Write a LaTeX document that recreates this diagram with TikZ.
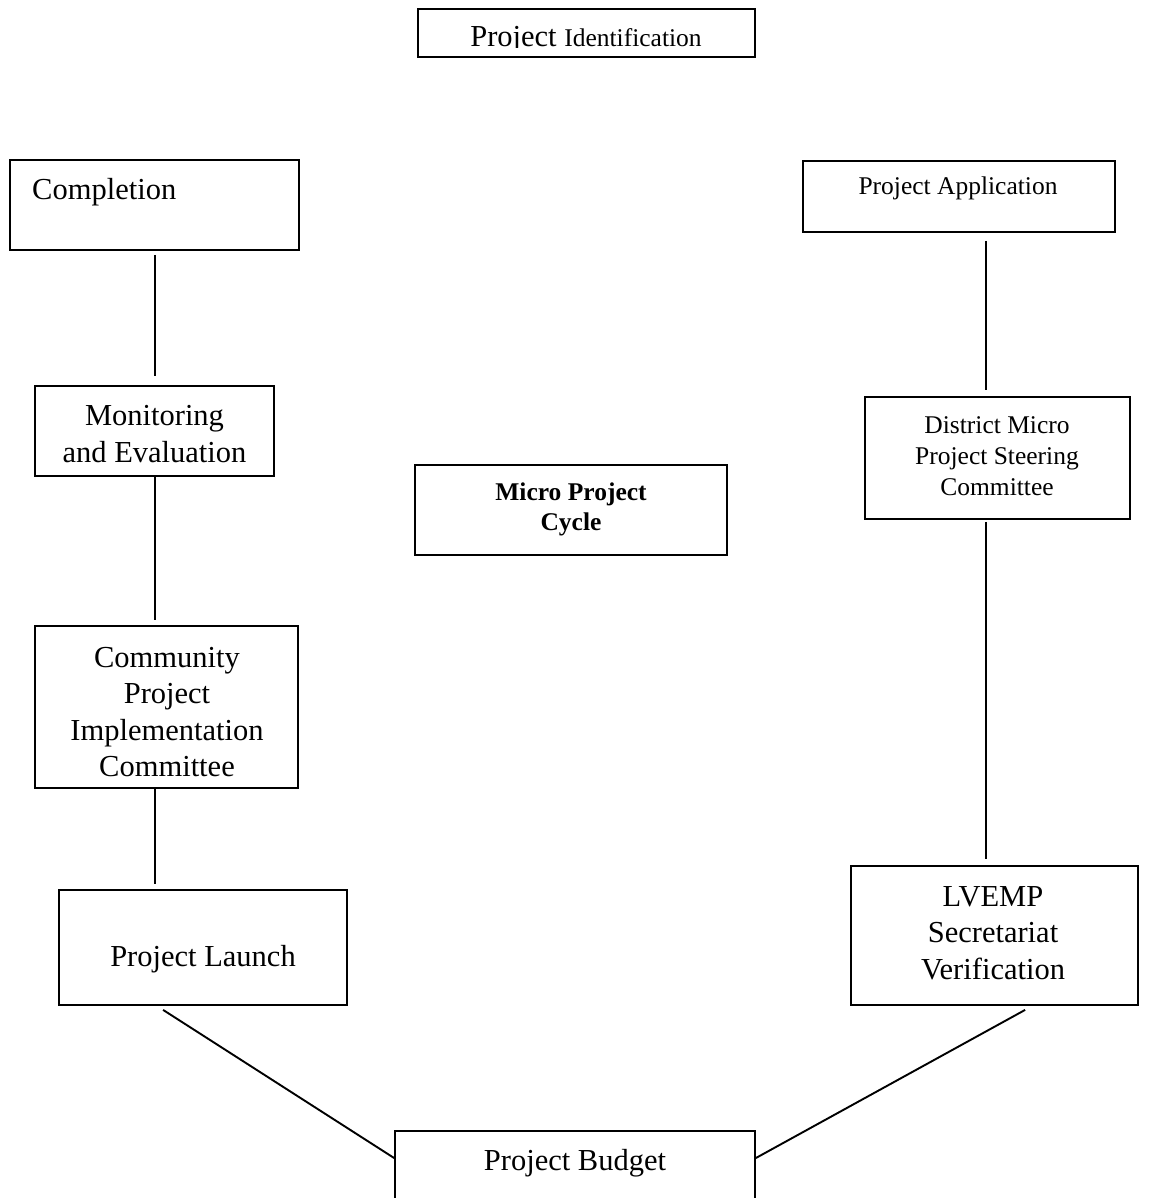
\documentclass[tikz,border=0pt]{standalone}
\usepackage{fontspec}
\setmainfont{Liberation Serif}
\usetikzlibrary{calc}
\tikzset{
  box/.style={draw, line width=1.8pt, rectangle, inner sep=0pt},
  big/.style={font=\fontsize{30.5}{36.5}\selectfont, align=center, inner sep=0pt},
  small/.style={font=\fontsize{25.5}{31}\selectfont, align=center, inner sep=0pt},
  bsmall/.style={font=\fontsize{25.5}{30}\selectfont\bfseries, align=center, inner sep=0pt},
  link/.style={line width=1.9pt}
}
\begin{document}
\begin{tikzpicture}[x=1pt, y=-1pt]
\useasboundingbox (0,0) rectangle (1150,1198);
\clip (0,0) rectangle (1150,1198);
\fill[white] (0,0) rectangle (1150,1198);

% boxes
\node[box, minimum width=337pt, minimum height=48pt] (ident) at (586.5,33) {};
\node[box, minimum width=289pt, minimum height=90pt] (comp) at (154.5,205) {};
\node[box, minimum width=312pt, minimum height=71pt] (app) at (959,196.5) {};
\node[box, minimum width=239pt, minimum height=90pt] (mon) at (154.5,431) {};
\node[box, minimum width=312pt, minimum height=90pt] (mpc) at (571,510) {};
\node[box, minimum width=265pt, minimum height=122pt] (dm) at (997.5,458) {};
\node[box, minimum width=263pt, minimum height=162pt] (cpic) at (166.5,707) {};
\node[box, minimum width=288pt, minimum height=115pt] (launch) at (203,947.5) {};
\node[box, minimum width=287pt, minimum height=139pt] (lv) at (994.5,935.5) {};
\node[box, minimum width=360pt, minimum height=120pt, anchor=north] (budget) at (575,1130) {};

% texts
\begin{scope}
\clip (418,9) rectangle (755,47.5);
\node[inner sep=0pt, anchor=base] (identT) at (586,47) {\fontsize{30.5}{36}\selectfont Project \fontsize{25.5}{30}\selectfont Identification};
\end{scope}
\node[big, anchor=base west] (compT) at (32,200) {Completion};
\node[small] (appT) at (958,188) {Project Application};
\node[big] (monT) at (154.5,434) {Monitoring\\and Evaluation};
\node[bsmall] (mpcT) at (571,509) {Micro Project\\Cycle};
\node[small] (dmT) at (997,456) {District Micro\\Project Steering\\Committee};
\node[big] (cpicT) at (167,712) {Community\\Project\\Implementation\\Committee};
\node[big] (launchT) at (203,959) {Project Launch};
\node[big] (lvT) at (993,933) {LVEMP\\Secretariat\\Verification};
\node[big] (budgetT) at (575,1163) {Project Budget};

% connectors
\coordinate (lx) at (155,0);
\coordinate (rx) at (986,0);
\draw[link, shorten <=4pt, shorten >=9pt] (comp.south -| lx) -- (mon.north -| lx);
\draw[link, shorten >=5pt] (mon.south -| lx) -- (cpic.north -| lx);
\draw[link, shorten >=5pt] (cpic.south -| lx) -- (launch.north -| lx);
\draw[link] ($(launch.south west)+(105,4)$) -- ($(budget.north west)+(0,28)$);
\draw[link] ($(budget.north east)+(0,28)$) -- ($(lv.south west)+(175,4)$);
\draw[link, shorten <=2pt, shorten >=6pt] (dm.south -| rx) -- (lv.north -| rx);
\draw[link, shorten <=8pt, shorten >=6pt] (app.south -| rx) -- (dm.north -| rx);
\end{tikzpicture}
\end{document}
